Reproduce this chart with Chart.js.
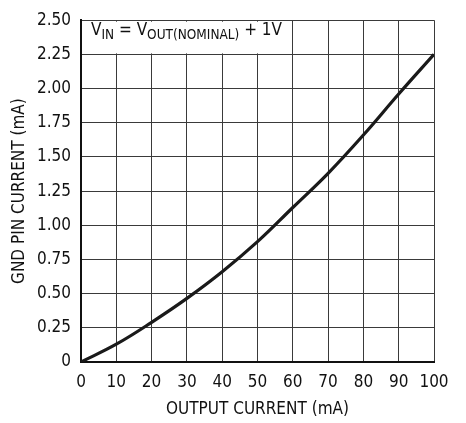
<!DOCTYPE html>
<html>
<head>
<meta charset="utf-8">
<script src="https://cdn.jsdelivr.net/npm/chart.js@4.4.1/dist/chart.umd.min.js"></script>
<style>
  html, body { margin: 0; padding: 0; background: #fff; }
  canvas { display: block; }
</style>
</head>
<body>
<canvas id="gndChart" width="466" height="423"></canvas>
<script>
// values
const outputCurrent = [0, 10, 20, 30, 40, 50, 60, 70, 80, 90, 100];   // mA
const gndPinCurrent = [0, 0.13, 0.29, 0.465, 0.66, 0.88, 1.13, 1.38, 1.66, 1.96, 2.25]; // mA
const yTickLabels = ['0', '0.25', '0.50', '0.75', '1.00', '1.25', '1.50', '1.75', '2.00', '2.25', '2.50'];

const FONT = "'Liberation Sans Narrow', 'DejaVu Sans Condensed', 'Arial Narrow', sans-serif";

// condition label in the top left corner, drawn over a white box
const conditionBox = {
  id: 'conditionBox',
  beforeDatasetsDraw(chart){
    const {ctx, chartArea, scales} = chart;
    const x0 = chartArea.left + 1.5;
    const x1 = scales.x.getPixelForValue(60) - 1;
    const y0 = chartArea.top + 1.5;
    const y1 = scales.y.getPixelForValue(2.25) - 1;
    ctx.save();
    ctx.fillStyle = '#fff';
    ctx.fillRect(x0, y0, x1 - x0, y1 - y0);

    const parts = [
      ['V', false], ['IN', true], [' = V', false], ['OUT(NOMINAL)', true], [' + 1V', false]
    ];
    let x = chartArea.left + 10;
    const base = 35;
    ctx.fillStyle = '#111';
    ctx.textBaseline = 'alphabetic';
    parts.forEach(([txt, sub]) => {
      ctx.font = (sub ? '13.5px ' : '17px ') + FONT;
      ctx.fillText(txt, x, sub ? base + 3.5 : base);
      x += ctx.measureText(txt).width;
    });
    ctx.restore();
  }
};

const ctx = document.getElementById('gndChart').getContext('2d');
new Chart(ctx, {
  type: 'line',
  data: {
    datasets: [{
      data: outputCurrent.map((v, i) => ({x: v, y: gndPinCurrent[i]})),
      borderColor: '#1a1a1a',
      borderWidth: 3.2,
      pointRadius: 0,
      tension: 0.4,
      fill: false
    }]
  },
  options: {
    responsive: false,
    animation: false,
    layout: { padding: { top: 12, right: 32, left: 0, bottom: 0 } },
    plugins: { legend: { display: false }, tooltip: { enabled: false } },
    scales: {
      x: {
        type: 'linear',
        min: 0, max: 100,
        afterFit(scale){ scale.height = 61; },
        ticks: { stepSize: 10, padding: 10, maxRotation: 0, minRotation: 0, autoSkip: false,
                 color: '#111', font: { family: FONT, size: 17 } },
        grid: { color: '#3a3a3a', lineWidth: 1, drawTicks: false },
        border: { color: '#111', width: 2 },
        title: { display: true, text: 'OUTPUT CURRENT (mA)', color: '#111',
                 font: { family: FONT, size: 17 }, padding: { top: 0, bottom: 3 } }
      },
      y: {
        min: 0, max: 2.5,
        afterFit(scale){ scale.width = 81; },
        ticks: { stepSize: 0.25, padding: 10, color: '#111', font: { family: FONT, size: 17 },
                 callback: (v, i) => yTickLabels[i] },
        grid: { color: '#3a3a3a', lineWidth: 1, drawTicks: false },
        border: { color: '#111', width: 2 },
        title: { display: true, text: 'GND PIN CURRENT (mA)', color: '#111',
                 font: { family: FONT, size: 17 }, padding: { top: 9, bottom: 0 } }
      }
    }
  },
  plugins: [conditionBox]
});
</script>
</body>
</html>
